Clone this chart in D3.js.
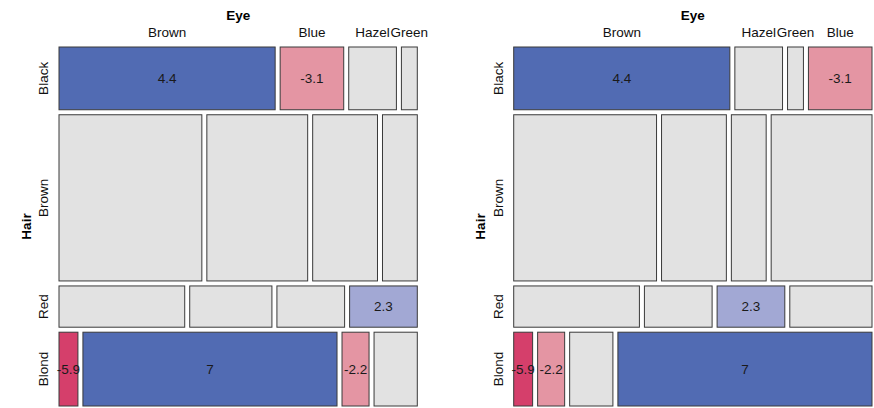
<!DOCTYPE html>
<html>
<head>
<meta charset="utf-8">
<script src="https://cdn.jsdelivr.net/npm/d3@7"></script>
<style>
  html, body { margin: 0; padding: 0; background: #ffffff; }
  svg { display: block; font-family: "Liberation Sans", Arial, sans-serif; }
</style>
</head>
<body>
<svg id="chart" width="874" height="408"></svg>
<script>
// Hair × Eye colour counts (both sexes combined)
const hairLevels = ["Black", "Brown", "Red", "Blond"];
const eyeLevels = ["Brown", "Blue", "Hazel", "Green"];
const counts = [
  [68, 20, 15, 5],    // Black
  [119, 84, 54, 29],  // Brown
  [26, 17, 14, 14],   // Red
  [7, 94, 10, 16]     // Blond
];
// Column order used by each of the two panels
const leftEyeOrder = ["Brown", "Blue", "Hazel", "Green"];
const rightEyeOrder = ["Brown", "Hazel", "Green", "Blue"];

const svg = d3.select("#chart");

const N = d3.sum(counts.flat());
const rowTotals = counts.map(r => d3.sum(r));
const colTotals = eyeLevels.map((_, j) => d3.sum(counts, r => r[j]));

// Pearson residuals under independence
const residual = (i, j) => {
  const e = rowTotals[i] * colTotals[j] / N;
  return (counts[i][j] - e) / Math.sqrt(e);
};

// Residual-based shading
const shade = r => {
  if (r > 4) return "#516BB3";
  if (r > 2) return "#A2A8D4";
  if (r < -4) return "#D53F6B";
  if (r < -2) return "#E495A3";
  return "#E2E2E2";
};
const fmt = r => String(Math.round(r * 10) / 10);

const gap = 5;
const plotTop = 47, plotBottom = 406;

function panel(x0, x1, eyeOrder) {
  const g = svg.append("g");
  const W = x1 - x0;
  const H = plotBottom - plotTop;

  // vertical split by hair colour
  const y = d3.scaleLinear().domain([0, N]).range([0, H - gap * (hairLevels.length - 1)]);
  const cumRows = d3.cumsum([0, ...rowTotals]);

  hairLevels.forEach((hair, i) => {
    const ry0 = plotTop + y(cumRows[i]) + i * gap;
    const ry1 = plotTop + y(cumRows[i + 1]) + i * gap;

    const rowVals = eyeOrder.map(e => counts[i][eyeLevels.indexOf(e)]);
    const x = d3.scaleLinear().domain([0, rowTotals[i]]).range([0, W - gap * (eyeOrder.length - 1)]);
    const cum = d3.cumsum([0, ...rowVals]);

    eyeOrder.forEach((eye, k) => {
      const j = eyeLevels.indexOf(eye);
      const cx0 = x0 + x(cum[k]) + k * gap;
      const cx1 = x0 + x(cum[k + 1]) + k * gap;
      const r = residual(i, j);
      g.append("rect")
        .attr("x", cx0).attr("y", ry0)
        .attr("width", cx1 - cx0).attr("height", ry1 - ry0)
        .attr("fill", shade(r))
        .attr("stroke", "#3a3a3a")
        .attr("stroke-width", 1);
      if (Math.abs(r) > 2) {
        g.append("text")
          .attr("x", (cx0 + cx1) / 2).attr("y", (ry0 + ry1) / 2)
          .attr("dy", "0.35em")
          .attr("text-anchor", "middle")
          .attr("font-size", "13.5px")
          .attr("fill", "#1a1a1a")
          .text(fmt(r));
      }
      // column labels above the first row
      if (i === 0) {
        g.append("text")
          .attr("x", (cx0 + cx1) / 2).attr("y", 37)
          .attr("text-anchor", "middle")
          .attr("font-size", "13.5px")
          .attr("fill", "#111")
          .text(eye);
      }
    });

    // row label
    const cy = (ry0 + ry1) / 2;
    g.append("text")
      .attr("transform", `translate(${x0 - 15.5},${cy}) rotate(-90)`)
      .attr("dy", "0.35em")
      .attr("text-anchor", "middle")
      .attr("font-size", "13.5px")
      .attr("fill", "#111")
      .text(hair);
  });

  // variable names
  g.append("text")
    .attr("x", (x0 + x1) / 2).attr("y", 20)
    .attr("text-anchor", "middle")
    .attr("font-size", "13.5px")
    .attr("font-weight", "bold")
    .text("Eye");
  g.append("text")
    .attr("transform", `translate(${x0 - 33},${(plotTop + plotBottom) / 2}) rotate(-90)`)
    .attr("dy", "0.35em")
    .attr("text-anchor", "middle")
    .attr("font-size", "13.5px")
    .attr("font-weight", "bold")
    .text("Hair");
}

panel(59, 417.3, leftEyeOrder);
panel(513.7, 872, rightEyeOrder);
</script>
</body>
</html>
